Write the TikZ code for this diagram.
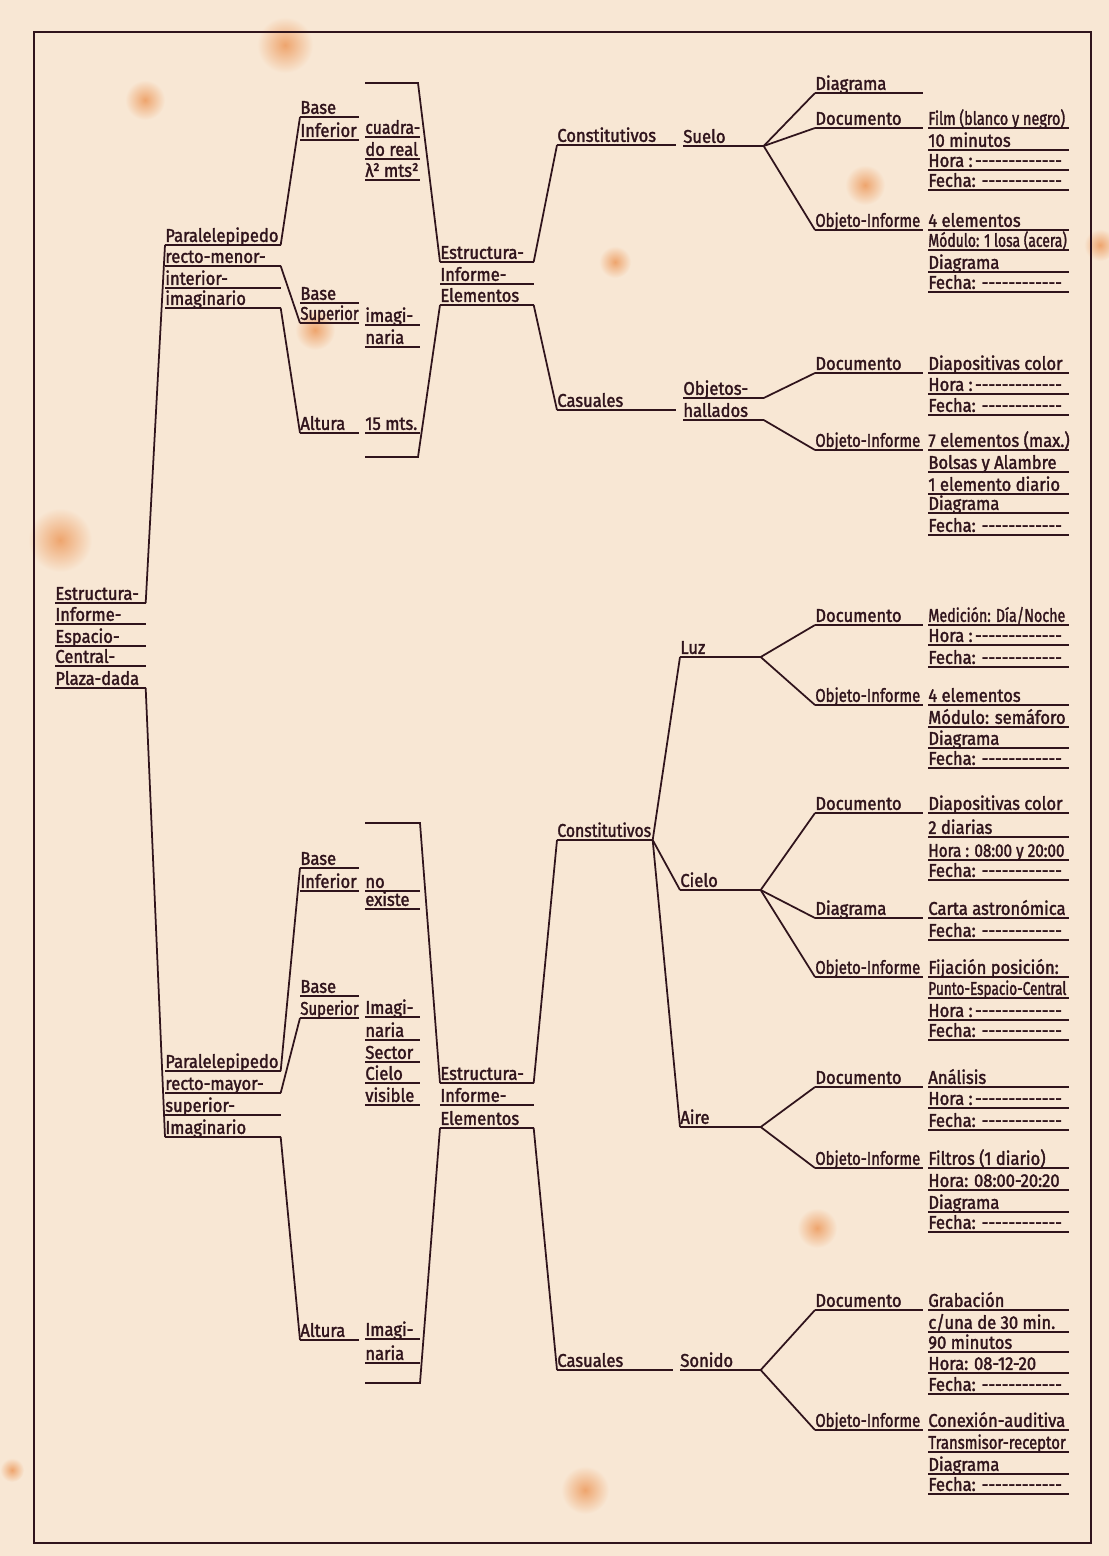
\documentclass[tikz,border=0pt]{standalone}
\usepackage{fontspec}
\usepackage{graphicx}
\newfontfamily\hand{Fira Sans}[FakeStretch=0.9,FakeBold=1.8]
\usetikzlibrary{positioning}
\definecolor{ink}{RGB}{48,20,28}
\definecolor{paper}{RGB}{248,231,212}
\definecolor{stain}{RGB}{238,165,110}
\newcommand{\raya}{\leaders\hbox to 3.8pt{\hss-\hss}\hskip 0pt plus 1fill\hbox{}}
\newcommand{\sq}[2][0.9]{\scalebox{#1}[1]{#2}}   % squeezed lettering
\tikzset{
  ink line/.style={
    draw=ink,
    line width=1pt
  },
  my label/.style={
    anchor=south west,
    inner xsep=0pt,
    inner ysep=1.6pt,
    text depth=0pt,
    text=ink,
    font=\hand\fontsize{10.5}{12}\selectfont,
    execute at begin node={\hbox to #1\bgroup},
    execute at end node={\hss\egroup},
    append after command={
      (\tikzlastnode.south west) edge[ink line] (\tikzlastnode.south east)
    }
  },
  root text/.style={my label=1.8cm},
  body text/.style={my label=2.3cm},
  part text/.style={my label=1.16cm},
  measure text/.style={my label=1.08cm},
  struct text/.style={my label=1.86cm},
  class text/.style={my label=#1},
  class text/.default=2.36cm,
  topic text/.style={my label=1.6cm},
  medium text/.style={my label=2.14cm},
  data text/.style={my label=2.8cm}
}
\begin{document}
\begin{tikzpicture}[x=0.02cm,y=-0.02cm]
% paper, stains and frame
\fill[paper] (0,0) rectangle (1109,1556);
\useasboundingbox (0,0) rectangle (1109,1556);
\foreach \sx/\sy/\sr in {285/45/28, 145/100/20, 615/262/16, 865/185/20,
                         817/1228/20, 585/1490/24, 60/540/32, 1100/245/16,
                         315/330/20, 12/1470/12}
  \shade[inner color=stain, outer color=paper] (\sx,\sy) circle (\sr);
\draw[ink line] (34,32) rectangle (1091,1543);

% root
\node[root text] (r1) at (55,603) {Estructura-};
\node[root text] (r2) at (55,624) {Informe-};
\node[root text] (r3) at (55,646) {Espacio-};
\node[root text] (r4) at (55,666) {Central-};
\node[root text] (r5) at (55,688) {Plaza-dada};

% upper half
\node[body text] (pu1) at (165,245) {Paralelepipedo};
\node[body text] (pu2) at (165,266) {recto-menor-};
\node[body text] (pu3) at (165,288) {interior-};
\node[body text] (pu4) at (165,308) {imaginario};
\node[part text] (ubi1) at (300,117) {Base};
\node[part text] (ubi2) at (300,140) {Inferior};
\node[part text] (ubs1) at (300,303) {Base};
\node[part text] (ubs2) at (300,323) {\sq{Superior}};
\node[part text] (ual)  at (300,433) {Altura};
\node[measure text] (umi1) at (365,137) {\sq[0.95]{cuadra-}};
\node[measure text] (umi2) at (365,159) {do real};
\node[measure text] (umi3) at (365,180) {λ² mts²};
\node[measure text] (ums1) at (365,325) {imagi-};
\node[measure text] (ums2) at (365,347) {naria};
\node[measure text] (uma1) at (365,433) {15 mts.};
\coordinate (utop l) at (365,83);
\coordinate (utop r) at (418,83);
\coordinate (ubot l) at (365,457);
\coordinate (ubot r) at (418,457);
\node[struct text] (ue1) at (440,262) {Estructura-};
\node[struct text] (ue2) at (440,284) {Informe-};
\node[struct text] (ue3) at (440,305) {Elementos};
\node[class text] (ucon) at (557,145) {Constitutivos};
\node[topic text] (suelo) at (683,146) {Suelo};
\node[medium text] (sdia) at (815,93)  {Diagrama};
\node[medium text] (sdoc) at (815,128) {Documento};
\node[medium text] (sobj) at (815,230) {\sq{Objeto-Informe}};
\foreach \t/\y [count=\i] in {\sq[0.87]{Film (blanco y negro)}/128, 10 minutos/150,
                              Hora :\raya/170, Fecha:\raya/190}
  \node[data text] (sdoc-\i) at (928,\y) {\t};
\foreach \t/\y [count=\i] in {4 elementos/230, \sq[0.84]{Módulo: 1 losa (acera)}/250,
                              Diagrama/272, Fecha:\raya/292}
  \node[data text] (sobj-\i) at (928,\y) {\t};
\node[class text] (ucas) at (557,410) {Casuales};
\node[topic text] (hal1) at (683,398) {Objetos-};
\node[topic text] (hal2) at (683,420) {hallados};
\node[medium text] (hdoc) at (815,373) {Documento};
\node[medium text] (hobj) at (815,450) {\sq{Objeto-Informe}};
\foreach \t/\y [count=\i] in {Diapositivas color/373, Hora :\raya/394,
                              Fecha:\raya/415}
  \node[data text] (hdoc-\i) at (928,\y) {\t};
\foreach \t/\y [count=\i] in {7 elementos (max.)/450, Bolsas y Alambre/472,
                              1 elemento diario/494, Diagrama/513, Fecha:\raya/535}
  \node[data text] (hobj-\i) at (928,\y) {\t};

% lower half
\node[body text] (pl1) at (165,1071) {Paralelepipedo};
\node[body text] (pl2) at (165,1093) {recto-mayor-};
\node[body text] (pl3) at (165,1115) {superior-};
\node[body text] (pl4) at (165,1137) {Imaginario};
\node[part text] (lbi1) at (300,868)  {Base};
\node[part text] (lbi2) at (300,891)  {Inferior};
\node[part text] (lbs1) at (300,996)  {Base};
\node[part text] (lbs2) at (300,1018) {\sq{Superior}};
\node[part text] (lal)  at (300,1340) {Altura};
\node[measure text] (lmi1) at (365,891)  {no};
\node[measure text] (lmi2) at (365,909)  {existe};
\node[measure text] (lms1) at (365,1017) {Imagi-};
\node[measure text] (lms2) at (365,1040) {naria};
\node[measure text] (lms3) at (365,1062) {Sector};
\node[measure text] (lms4) at (365,1083) {Cielo};
\node[measure text] (lms5) at (365,1105) {visible};
\node[measure text] (lma1) at (365,1339) {Imagi-};
\node[measure text] (lma2) at (365,1363) {naria};
\coordinate (ltop l) at (365,823);
\coordinate (ltop r) at (420,823);
\coordinate (lbot l) at (365,1383);
\coordinate (lbot r) at (420,1383);
\node[struct text] (le1) at (440,1083) {Estructura-};
\node[struct text] (le2) at (440,1105) {Informe-};
\node[struct text] (le3) at (440,1128) {Elementos};
\node[class text=1.9cm] (lcon) at (557,840) {\sq[0.95]{Constitutivos}};
\node[topic text] (luz) at (680,657) {Luz};
\node[medium text] (zdoc) at (815,625) {Documento};
\node[medium text] (zobj) at (815,705) {\sq{Objeto-Informe}};
\foreach \t/\y [count=\i] in {\sq[0.86]{Medición: Día/Noche}/625, Hora :\raya/645,
                              Fecha:\raya/667}
  \node[data text] (zdoc-\i) at (928,\y) {\t};
\foreach \t/\y [count=\i] in {4 elementos/705, Módulo: semáforo/727,
                              Diagrama/748, Fecha:\raya/768}
  \node[data text] (zobj-\i) at (928,\y) {\t};
\node[topic text] (cielo) at (680,890) {Cielo};
\node[medium text] (cdoc) at (815,813) {Documento};
\node[medium text] (cdia) at (815,918) {Diagrama};
\node[medium text] (cobj) at (815,977) {\sq{Objeto-Informe}};
\foreach \t/\y [count=\i] in {Diapositivas color/813, 2 diarias/837,
                              \sq[0.92]{Hora : 08:00 y 20:00}/860, Fecha:\raya/880}
  \node[data text] (cdoc-\i) at (928,\y) {\t};
\foreach \t/\y [count=\i] in {Carta astronómica/918, Fecha:\raya/940}
  \node[data text] (cdia-\i) at (928,\y) {\t};
\foreach \t/\y [count=\i] in {Fijación posición:/977, \sq[0.82]{Punto-Espacio-Central}/998,
                              Hora :\raya/1020, Fecha:\raya/1040}
  \node[data text] (cobj-\i) at (928,\y) {\t};
\node[topic text] (aire) at (680,1127) {Aire};
\node[medium text] (adoc) at (815,1087) {Documento};
\node[medium text] (aobj) at (815,1168) {\sq{Objeto-Informe}};
\foreach \t/\y [count=\i] in {Análisis/1087, Hora :\raya/1108, Fecha:\raya/1130}
  \node[data text] (adoc-\i) at (928,\y) {\t};
\foreach \t/\y [count=\i] in {Filtros (1 diario)/1168, Hora: 08:00-20:20/1190,
                              Diagrama/1212, Fecha:\raya/1232}
  \node[data text] (aobj-\i) at (928,\y) {\t};
\node[class text=2.3cm] (lcas) at (557,1370) {Casuales};
\node[topic text] (sonido) at (680,1370) {Sonido};
\node[medium text] (ndoc) at (815,1310) {Documento};
\node[medium text] (nobj) at (815,1430) {\sq{Objeto-Informe}};
\foreach \t/\y [count=\i] in {Grabación/1310, {c/una de 30 min.}/1332,
                              90 minutos/1352, Hora: 08-12-20/1373, Fecha:\raya/1394}
  \node[data text] (ndoc-\i) at (928,\y) {\t};
\foreach \t/\y [count=\i] in {Conexión-auditiva/1430, \sq{Transmisor-receptor}/1452,
                              Diagrama/1474, Fecha:\raya/1494}
  \node[data text] (nobj-\i) at (928,\y) {\t};

% connectors
\path[ink line]
  (r1.south east)   edge (pu1.south west)
  (r5.south east)   edge (pl4.south west)
  (pu1.south east)  edge (ubi1.south west)
  (pu2.south east)  edge (ubs2.south west)
  (pu4.south east)  edge (ual.south west)
  (ue1.south east)  edge (ucon.south west)
  (ue3.south east)  edge (ucas.south west)
  (suelo.south east) edge (sdia.south west)
  (suelo.south east) edge (sdoc.south west)
  (suelo.south east) edge (sobj.south west)
  (hal1.south east) edge (hdoc.south west)
  (hal2.south east) edge (hobj.south west)
  (pl1.south east)  edge (lbi1.south west)
  (pl2.south east)  edge (lbs2.south west)
  (pl4.south east)  edge (lal.south west)
  (le1.south east)  edge (lcon.south west)
  (le3.south east)  edge (lcas.south west)
  (lcon.south east) edge (luz.south west)
  (lcon.south east) edge (cielo.south west)
  (lcon.south east) edge (aire.south west)
  (luz.south east)  edge (zdoc.south west)
  (luz.south east)  edge (zobj.south west)
  (cielo.south east) edge (cdoc.south west)
  (cielo.south east) edge (cdia.south west)
  (cielo.south east) edge (cobj.south west)
  (aire.south east) edge (adoc.south west)
  (aire.south east) edge (aobj.south west)
  (sonido.south east) edge (ndoc.south west)
  (sonido.south east) edge (nobj.south west);
\draw[ink line] (utop l) -- (utop r) -- (ue1.south west);
\draw[ink line] (ubot l) -- (ubot r) -- (ue3.south west);
\draw[ink line] (ltop l) -- (ltop r) -- (le1.south west);
\draw[ink line] (lbot l) -- (lbot r) -- (le3.south west);
\end{tikzpicture}
\end{document}
